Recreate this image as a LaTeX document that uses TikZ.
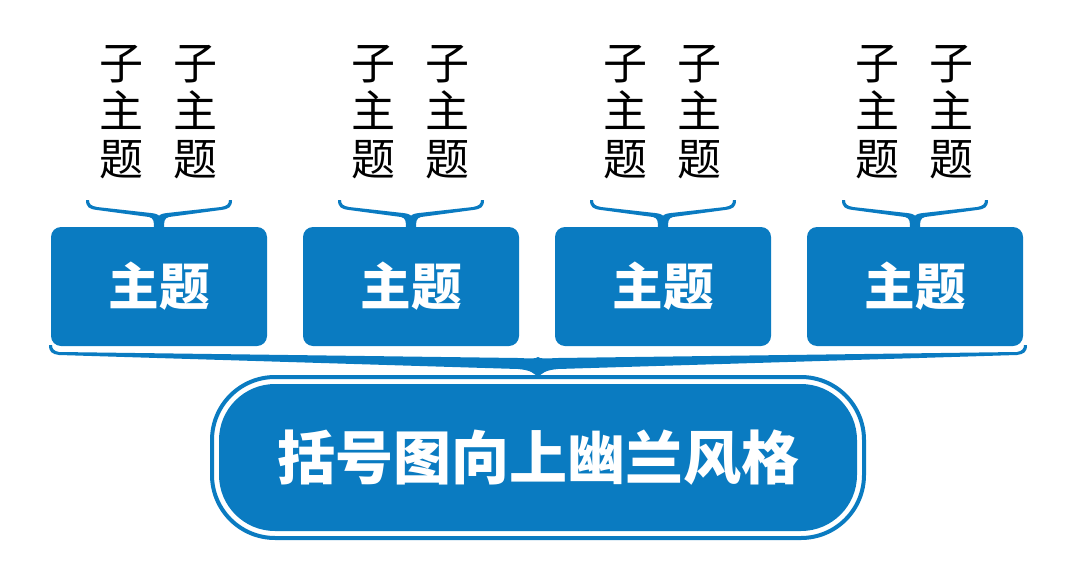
\documentclass[tikz,border=0pt]{standalone}
\usepackage{fontspec}
\newfontfamily\cjk{Noto Sans CJK SC}
\usetikzlibrary{calc}
\definecolor{lanblue}{HTML}{0A7BC1}
\begin{document}
\begin{tikzpicture}[x=0.75pt,y=-0.75pt,
  topicbox/.style={fill=lanblue, rounded corners=7.5pt, minimum width=162pt, minimum height=89.25pt,
    inner sep=0pt, outer sep=0pt, text=white, font=\cjk\bfseries\fontsize{38}{40}\selectfont},
  subtext/.style={align=center, inner sep=0pt, font=\cjk\fontsize{33}{36}\selectfont},
  bracefill/.style={fill=lanblue, draw=none},
  capouter/.style={draw=lanblue, line width=3pt, fill=white, rounded corners=47.25pt,
    minimum width=489pt, minimum height=120.75pt, inner sep=0pt, outer sep=0pt},
  capinner/.style={fill=lanblue, rounded corners=42pt, minimum width=478.5pt, minimum height=110.25pt,
    inner sep=0pt, outer sep=0pt, text=white, font=\cjk\bfseries\fontsize{43.5}{46}\selectfont},
]
\useasboundingbox (0,0) rectangle (1075,564);

\foreach \i/\cx in {1/159,2/411,3/663,4/915}{
  \node[topicbox] (b\i) at (\cx,286.5) {主题};
  \node[subtext] (sl\i) at (\cx-38,112) {子\\主\\题};
  \node[subtext] (sr\i) at (\cx+36,112) {子\\主\\题};
  \begin{scope}[shift={($(b\i.north)+(0,-27)$)}]
    \fill[bracefill] (-73,0) .. controls (-73,7) and (-70,9) .. (-62,10) -- (-10,17)
      .. controls (-5,18) and (-5,22) .. (-5,28) -- (5,28)
      .. controls (5,22) and (5,18) .. (10,17) -- (62,10)
      .. controls (70,9) and (73,7) .. (73,0) -- (70,0)
      .. controls (70,4) and (68,6) .. (62,7) -- (8,13)
      .. controls (3,13.5) and (0,15) .. (0,16)
      .. controls (0,15) and (-3,13.5) .. (-8,13) -- (-62,7)
      .. controls (-68,6) and (-70,4) .. (-70,0) -- cycle;
  \end{scope}
}

\node[capouter] (cap) at (538,457.5) {};
\node[capinner] (capin) at (cap.center) {括号图向上幽兰风格};

\begin{scope}[shift={($(cap.north)+(0,-32)$)}]
  \fill[bracefill] (-489,0) .. controls (-489,7) and (-486,9) .. (-479,10) -- (-20,24)
    .. controls (-8,25) and (-3,28) .. (0,33)
    .. controls (3,28) and (8,25) .. (20,24) -- (479,10)
    .. controls (486,9) and (489,7) .. (489,0) -- (486,0)
    .. controls (486,4) and (484,6) .. (479,7) -- (20,13)
    .. controls (8,13.5) and (2,14) .. (0,12)
    .. controls (-2,14) and (-8,13.5) .. (-20,13) -- (-479,7)
    .. controls (-484,6) and (-486,4) .. (-486,0) -- cycle;
\end{scope}
\end{tikzpicture}
\end{document}
